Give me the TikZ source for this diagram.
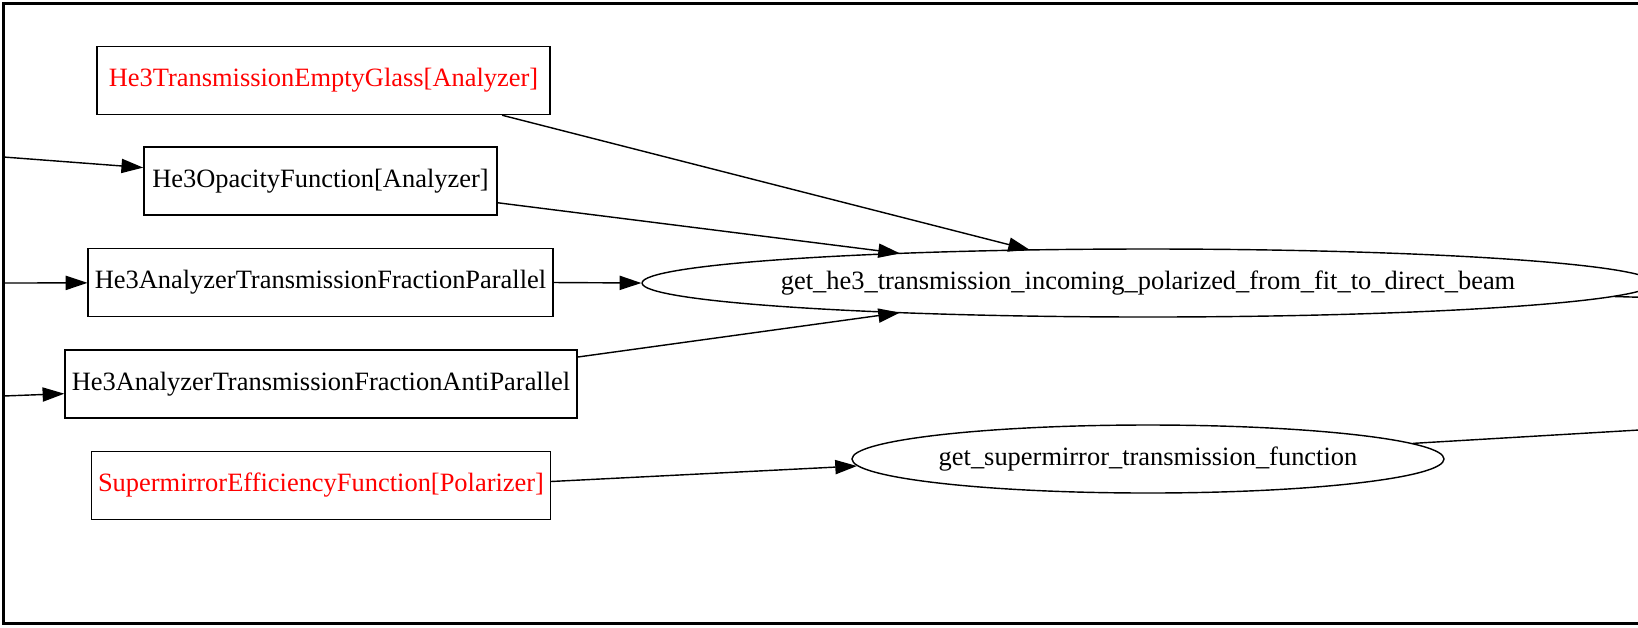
\documentclass[tikz,border=0pt]{standalone}
\usepackage{fontspec}
\setmainfont{Liberation Serif}
\usetikzlibrary{arrows.meta,shapes.geometric,calc}
\definecolor{figRed}{HTML}{FF0000}
\tikzset{
  fnbox/.style={draw,rectangle,minimum height=36pt,inner xsep=0pt,font=\fontsize{14}{16}\selectfont},
  opnode/.style={draw,ellipse,minimum height=36pt,inner sep=0pt,font=\fontsize{14}{16}\selectfont}
}
\begin{document}
\begin{tikzpicture}[x=0.5294pt,y=-0.5294pt,line width=0.75pt,>={Triangle[length=11.5pt,width=7.5pt]}]
\useasboundingbox (0,0) rectangle (1638,627);
\clip (0,0) rectangle (1638,627);
\draw[line width=1.1pt] (1700,3.5) -- (3.5,3.5) -- (3.5,623.5) -- (1700,623.5);
\node[fnbox,minimum width=240pt,text=figRed] (glass) at (323.5,80.5) {He3TransmissionEmptyGlass[Analyzer]};
\node[fnbox,minimum width=187pt] (opacity) at (320.5,181) {He3OpacityFunction[Analyzer]};
\node[fnbox,minimum width=246pt] (parallel) at (320.5,282.5) {He3AnalyzerTransmissionFractionParallel};
\node[fnbox,minimum width=271pt] (antipar) at (321,384) {He3AnalyzerTransmissionFractionAntiParallel};
\node[fnbox,minimum width=243pt,text=figRed] (mirror) at (321,485.5) {SupermirrorEfficiencyFunction[Polarizer]};
\node[opnode,inner xsep=-5pt,minimum width=534pt] (he3fit) at (1148,283) {get\_he3\_transmission\_incoming\_polarized\_from\_fit\_to\_direct\_beam};
\node[opnode,minimum width=313pt] (smfn) at (1148,459) {get\_supermirror\_transmission\_function};
\coordinate (inA) at (3.5,157);
\coordinate (inB) at (3.5,283);
\coordinate (inC) at (3.5,396);
\coordinate (outA) at (1700,299);
\coordinate (outB) at (1700,426.4);
\draw[->] (inA) -- (opacity);
\draw[->] (inB) -- (parallel);
\draw[->] (inC) -- (antipar);
\draw[->] (glass.-11) -- ($(he3fit.center)+(-118,-33)$);
\draw[->] (opacity.-7.1) -- ($(he3fit.center)+(-248,-29.6)$);
\draw[->] (parallel.east) -- (he3fit.west);
\draw[->] (antipar.6.9) -- ($(he3fit.center)+(-248,29.6)$);
\draw[->] (mirror.1.9) -- ($(smfn.center)+(-291,7)$);
\draw (he3fit) -- (outA);
\draw (smfn) -- (outB);
\end{tikzpicture}
\end{document}
